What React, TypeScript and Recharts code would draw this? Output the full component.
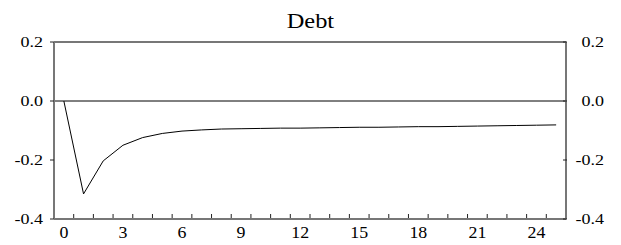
import { LineChart, Line, XAxis, YAxis, ReferenceLine } from 'recharts'

const steps = [0, 1, 2, 3, 4, 5, 6, 7, 8, 9, 10, 11, 12, 13, 14, 15, 16, 17, 18, 19, 20, 21, 22, 23, 24, 25]
const debt = [
  0, -0.315, -0.203, -0.15, -0.124, -0.11, -0.102, -0.098, -0.095, -0.094,
  -0.093, -0.092, -0.092, -0.091, -0.09, -0.089, -0.089, -0.088, -0.087, -0.087,
  -0.086, -0.085, -0.084, -0.083, -0.082, -0.081,
]
const xLabels = [0, 3, 6, 9, 12, 15, 18, 21, 24]
const xMinor = [0.5, 1.5, 2.5, 3.5, 4.5, 5.5, 6.5, 7.5, 8.5, 9.5, 10.5, 11.5, 12.5, 13.5, 14.5, 15.5, 16.5, 17.5, 18.5, 19.5, 20.5, 21.5, 22.5, 23.5, 24.5]
const yTicks = [-0.4, -0.2, 0, 0.2]

const data = steps.map((s, i) => ({ step: s, debt: debt[i] }))

const FONT = 'Liberation Serif, Times New Roman, Tinos, DejaVu Serif, serif'
const FRAME = '#777'

function XTick(props: any) {
  const { x, y, payload } = props
  const v = payload.value
  if (xLabels.includes(v)) {
    return (
      <g transform={`translate(${x},${y + 19})`}>
        <text transform="scale(1.05,1)" textAnchor="middle" style={{ fontFamily: FONT }} fontSize={17} fill="#000">
          {v}
        </text>
      </g>
    )
  }
  return <line x1={x} x2={x} y1={y - 1} y2={y - 5} stroke="#222" strokeWidth={1} />
}

function LeftTick(props: any) {
  const { x, y, payload } = props
  return (
    <g>
      <line x1={x - 4} x2={x} y1={y} y2={y} stroke="#222" strokeWidth={1} />
      <g transform={`translate(${x - 11},${y})`}>
        <text transform="scale(1.2,1)" textAnchor="end" dy="0.35em" style={{ fontFamily: FONT }} fontSize={15} fill="#000">
          {payload.value.toFixed(1)}
        </text>
      </g>
    </g>
  )
}

function RightTick(props: any) {
  const { x, y, payload } = props
  return (
    <g>
      <line x1={x - 3} x2={x + 1} y1={y} y2={y} stroke="#222" strokeWidth={1} />
      <g transform={`translate(${x + 38},${y})`}>
        <text transform="scale(1.2,1)" textAnchor="end" dy="0.35em" style={{ fontFamily: FONT }} fontSize={15} fill="#000">
          {payload.value.toFixed(1)}
        </text>
      </g>
    </g>
  )
}

export default function App() {
  return (
    <div style={{ position: 'absolute', left: 0, top: 0, width: 621, height: 245, background: '#fff', fontFamily: FONT }}>
      <div
        style={{
          position: 'absolute', left: 0, top: 11, width: 621, textAlign: 'center',
          fontFamily: FONT, fontSize: 20, lineHeight: '20px', color: '#000',
        }}
      >
        <span style={{ display: 'inline-block', transform: 'scaleX(1.22)' }}>Debt</span>
      </div>
      <LineChart width={621} height={245} data={data} margin={{ top: 42, right: 0, bottom: 0, left: 0 }}>
        <XAxis
          dataKey="step"
          type="number"
          domain={[-0.5, 25.5]}
          ticks={[...xLabels, ...xMinor]}
          interval={0}
          height={26}
          tickSize={0}
          tickMargin={0}
          tick={<XTick />}
          axisLine={{ stroke: FRAME, strokeWidth: 2 }}
          allowDataOverflow
        />
        <YAxis
          yAxisId="left"
          orientation="left"
          domain={[-0.4, 0.2]}
          ticks={yTicks}
          width={54}
          tickSize={0}
          tickMargin={0}
          tick={<LeftTick />}
          axisLine={{ stroke: FRAME, strokeWidth: 2 }}
          allowDataOverflow
        />
        <YAxis
          yAxisId="right"
          orientation="right"
          domain={[-0.4, 0.2]}
          ticks={yTicks}
          width={55}
          tickSize={0}
          tickMargin={0}
          tick={<RightTick />}
          axisLine={{ stroke: FRAME, strokeWidth: 2 }}
          allowDataOverflow
        />
        <ReferenceLine yAxisId="left" y={0.2} stroke={FRAME} strokeWidth={2} />
        <ReferenceLine yAxisId="left" y={0} stroke="#000" strokeWidth={1} />
        <Line
          yAxisId="left"
          type="linear"
          dataKey="debt"
          stroke="#000"
          strokeWidth={1}
          dot={false}
          isAnimationActive={false}
        />
      </LineChart>
    </div>
  )
}
